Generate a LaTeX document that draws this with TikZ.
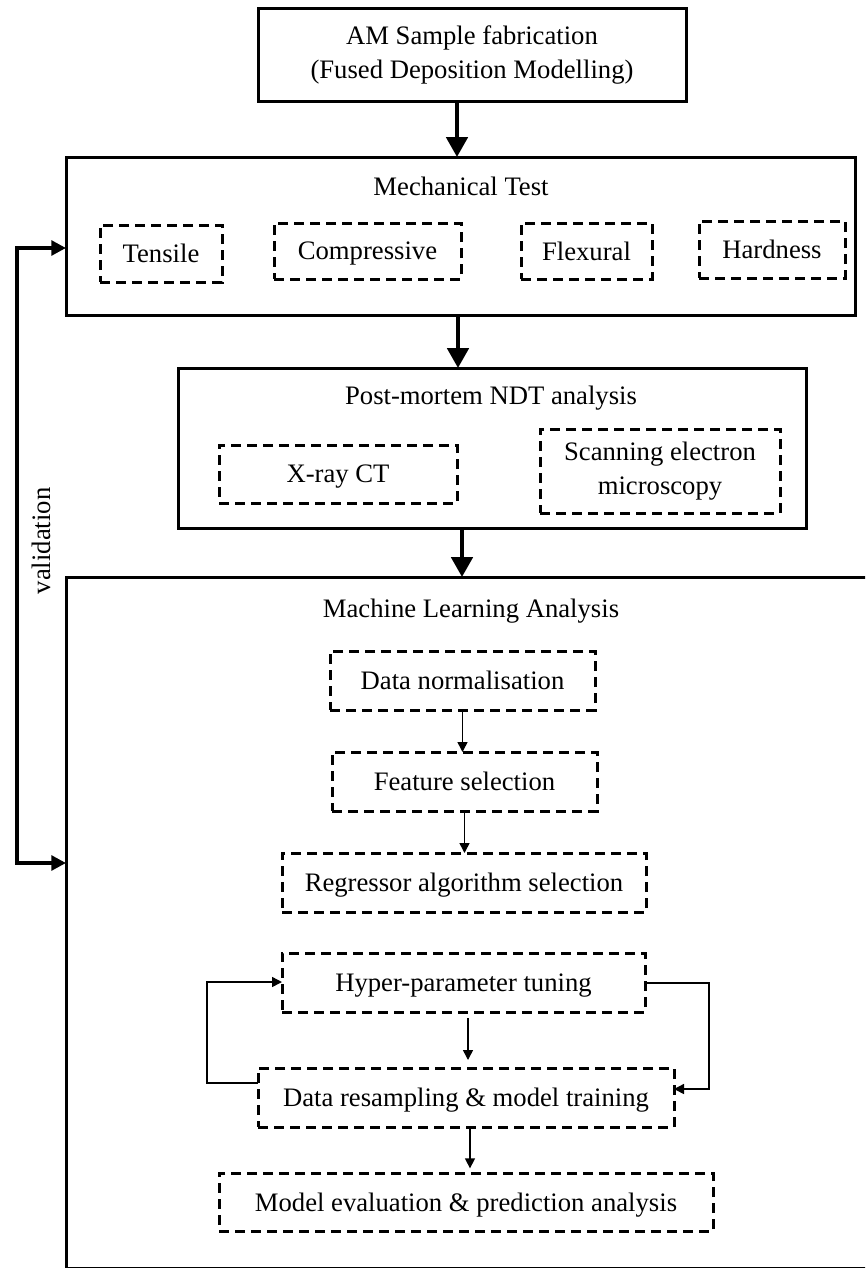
\documentclass[tikz,border=0pt]{standalone}
\usepackage{fontspec}
\setmainfont{Liberation Serif}
\usetikzlibrary{arrows.meta}
\begin{document}
\begin{tikzpicture}[x=0.75pt,y=-0.75pt,
  every node/.style={font=\fontsize{20}{25.5}\selectfont, align=center, inner sep=0pt, outer sep=0pt},
  sz/.style 2 args={minimum width=#1*0.75pt, minimum height=#2*0.75pt},
  oneline/.style={text depth=0pt},
  solidbox/.style={draw, line width=2.25pt},
  dashbox/.style={draw, line width=2.25pt, dash pattern=on 7.5pt off 4.5pt},
  bigarr/.style={line width=3pt, -{Triangle[length=15pt,width=16pt]}},
  smallarr/.style={line width=1.1pt, -{Triangle[length=7.5pt,width=7.5pt]}},
  valarr/.style={line width=3pt, {Triangle[length=11pt,width=11pt]}-{Triangle[length=11pt,width=11pt]}}
]
\useasboundingbox[fill=white] (0,0) rectangle (865,1268);

% top box
\node[solidbox, sz={428}{93}] (top) at (472,54.5) {AM Sample fabrication\\(Fused Deposition Modelling)};

% mechanical test
\node[solidbox, sz={789}{158}] (mech) at (460.5,236) {};
\node[oneline] (mechT) at (461,186) {Mechanical Test};
\node[dashbox, oneline, sz={122}{57}] (tensile) at (161,253.5) {Tensile};
\node[dashbox, oneline, sz={187}{56}] (compr) at (367.5,251) {Compressive};
\node[dashbox, oneline, sz={131}{56}] (flex) at (586.5,251) {Flexural};
\node[dashbox, oneline, sz={146}{57}] (hard) at (772,249.5) {Hardness};

% post-mortem
\node[solidbox, sz={628}{160}] (pm) at (492,448) {};
\node[oneline] (pmT) at (491,395) {Post-mortem NDT analysis};
\node[dashbox, oneline, sz={238}{58}] (xray) at (338,474) {X-ray CT};
\node[dashbox, sz={240}{84}] (sem) at (660,471) {Scanning electron\\microscopy};

% machine learning
\begin{scope}
\clip (0,0) rectangle (865,1268);
\node[solidbox, sz={819}{691}] (ml) at (475.5,922.5) {};
\end{scope}
\node[oneline] (mlT) at (471,608) {Machine Learning Analysis};
\node[dashbox, oneline, sz={265}{59}] (dn) at (462.5,680.5) {Data normalisation};
\node[dashbox, oneline, sz={265}{59}] (fs) at (464.5,781.5) {Feature selection};
\node[dashbox, oneline, sz={364}{59}] (reg) at (464,882.5) {Regressor algorithm selection};
\node[dashbox, oneline, sz={363}{59}] (hyp) at (463.5,982.5) {Hyper-parameter tuning};
\node[dashbox, oneline, sz={416}{59}] (res) at (466,1097.5) {Data resampling \& model training};
\node[dashbox, oneline, sz={494}{58}] (mev) at (466,1202) {Model evaluation \& prediction analysis};

% main arrows
\coordinate (a1) at (457,0);
\coordinate (a2) at (458,0);
\coordinate (a3) at (462,0);
\draw[bigarr] (top.south -| a1) -- (mech.north -| a1);
\draw[bigarr] (mech.south -| a2) -- (pm.north -| a2);
\draw[bigarr] (pm.south -| a3) -- (ml.north -| a3);

% inner arrows
\coordinate (a4) at (468,0);
\coordinate (a5) at (470,0);
\draw[smallarr] (dn.south) -- (fs.north -| dn.south);
\draw[smallarr] (fs.south) -- (reg.north -| fs.south);
\draw[smallarr, shorten <=4.5pt, shorten >=6pt] (hyp.south -| a4) -- (res.north -| a4);
\draw[smallarr, shorten >=3.5pt] (res.south -| a5) -- (mev.north -| a5);

% loops
\coordinate (L1) at (207,1083);
\coordinate (L2) at (207,982);
\draw[smallarr] (res.west |- L1) -- (L1) -- (L2) -- (hyp.west |- L2);
\coordinate (R1) at (709,983);
\coordinate (R2) at (709,1089);
\draw[smallarr] (hyp.east |- R1) -- (R1) -- (R2) -- (res.east |- R2);

% validation
\coordinate (vt) at (17,248);
\coordinate (vb) at (17,863);
\draw[valarr] (ml.west |- vb) -- (vb) -- (vt) -- (mech.west |- vt);
\node[rotate=90, oneline] (val) at (41,541) {validation};
\end{tikzpicture}
\end{document}
